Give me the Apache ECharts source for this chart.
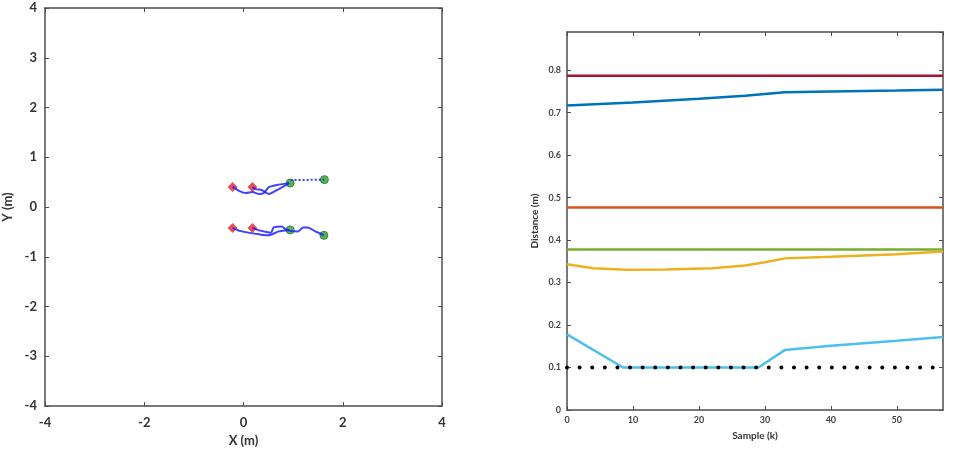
<!DOCTYPE html>
<html>
<head>
<meta charset="utf-8">
<script src="https://cdn.jsdelivr.net/npm/echarts@6/dist/echarts.min.js"></script>
<style>
html,body{margin:0;padding:0;background:#fff;}
#chart{width:954px;height:452px;}
</style>
</head>
<body>
<div id="chart"></div>
<script>
// left panel: robot trajectories (x, y in m)
var pathTop1 = [[-0.22,0.41],[-0.08,0.32],[0.05,0.28],[0.18,0.30],[0.32,0.26],[0.41,0.28],[0.51,0.40],[0.71,0.45],[0.92,0.48]];
var pathTop2 = [[0.18,0.40],[0.25,0.36],[0.37,0.34],[0.51,0.26],[0.71,0.36],[0.92,0.48]];
var pathTopLink = [[0.95,0.54],[1.63,0.55]];
var pathBot1 = [[-0.22,-0.42],[-0.08,-0.48],[0.12,-0.52],[0.32,-0.55],[0.51,-0.57],[0.71,-0.49],[0.92,-0.46]];
var pathBot2 = [[0.18,-0.42],[0.28,-0.46],[0.41,-0.49],[0.55,-0.52],[0.61,-0.41],[0.77,-0.39],[0.84,-0.44],[0.94,-0.48],[1.10,-0.49],[1.20,-0.41],[1.30,-0.41],[1.43,-0.48],[1.62,-0.57]];
var startPts = [[-0.22,0.40],[0.18,0.40],[-0.22,-0.42],[0.18,-0.42]];
var endPts = [[0.94,0.48],[1.63,0.55],[0.94,-0.46],[1.62,-0.57]];

// right panel: distance vs sample
var distRed = [[0,0.787],[57,0.787]];
var distBlue = [[0,0.717],[10,0.724],[20,0.733],[27,0.740],[33,0.748],[40,0.750],[50,0.752],[57,0.754]];
var distOrange = [[0,0.477],[57,0.477]];
var distGreen = [[0,0.378],[57,0.378]];
var distYellow = [[0,0.343],[4,0.334],[9,0.330],[15,0.331],[22,0.334],[27,0.340],[30,0.348],[33,0.357],[40,0.361],[50,0.367],[57,0.373]];
var distCyan = [[0,0.178],[8.5,0.100],[29,0.100],[33,0.141],[40,0.151],[50,0.163],[57,0.172]];
var safeLimit = [[0,0.1],[57.2,0.1]];

var e = echarts.init(document.getElementById("chart"));
var font = "Lato";
var tickStyle = {show: true, inside: true, length: 4, lineStyle: {color: "#4d4d4d", width: 1}};
var lineStyleAx = {show: true, onZero: false, lineStyle: {color: "#4d4d4d", width: 1.5}};
function lbl(size) {
	return {color: "#333", fontFamily: font, fontWeight: "bold", fontSize: size};
}
function trail(data, dotted) {
	return {
		type: "line", xAxisIndex: 0, yAxisIndex: 0, data: data, symbol: "none", smooth: 0.2,
		lineStyle: {color: "#2020ff", width: 2, opacity: 0.85, type: dotted ? [2, 2] : "solid"},
		z: 2
	};
}
function dist(data, color) {
	return {
		type: "line", xAxisIndex: 2, yAxisIndex: 2, data: data, symbol: "none",
		lineStyle: {color: color, width: 2.5}, z: 3
	};
}

var option = {
	animation: false,
	backgroundColor: "#fff",
	grid: [
		{left: 36, top: 8, width: 406, height: 404, show: false},
		{left: 567, top: 32, width: 376, height: 378, show: false}
	],
	xAxis: [
		{gridIndex: 0, type: "value", min: -4, max: 4, interval: 2, position: "bottom",
			name: "X (m)", nameLocation: "middle", nameGap: 28, nameTextStyle: lbl(13),
			axisLine: lineStyleAx, axisTick: tickStyle, splitLine: {show: false},
			axisLabel: Object.assign(lbl(13), {margin: 10})},
		{gridIndex: 0, type: "value", min: -4, max: 4, interval: 2, position: "top",
			axisLine: lineStyleAx, axisTick: tickStyle, splitLine: {show: false}, axisLabel: {show: false}},
		{gridIndex: 1, type: "value", min: 0, max: 57, interval: 10, position: "bottom",
			name: "Sample (k)", nameLocation: "middle", nameGap: 21, nameTextStyle: lbl(10),
			axisLine: lineStyleAx, axisTick: tickStyle, splitLine: {show: false},
			axisLabel: Object.assign(lbl(9), {margin: 6, color: "#444", showMaxLabel: false})},
		{gridIndex: 1, type: "value", min: 0, max: 57, interval: 10, position: "top",
			axisLine: lineStyleAx, axisTick: tickStyle, splitLine: {show: false}, axisLabel: {show: false}}
	],
	yAxis: [
		{gridIndex: 0, type: "value", min: -4, max: 4, interval: 1, position: "left",
			name: "Y (m)", nameLocation: "middle", nameGap: 31, nameRotate: 90, nameTextStyle: lbl(13),
			axisLine: lineStyleAx, axisTick: tickStyle, splitLine: {show: false},
			axisLabel: Object.assign(lbl(13), {margin: 8})},
		{gridIndex: 0, type: "value", min: -4, max: 4, interval: 1, position: "right",
			axisLine: lineStyleAx, axisTick: tickStyle, splitLine: {show: false}, axisLabel: {show: false}},
		{gridIndex: 1, type: "value", min: 0, max: 0.89, interval: 0.1, position: "left",
			name: "Distance (m)", nameLocation: "middle", nameGap: 27, nameRotate: 90, nameTextStyle: lbl(10),
			axisLine: lineStyleAx, axisTick: tickStyle, splitLine: {show: false},
			axisLabel: Object.assign(lbl(9), {margin: 6, color: "#444", showMaxLabel: false,
				formatter: function(v) { return v === 0 ? "0" : v.toFixed(1); }})},
		{gridIndex: 1, type: "value", min: 0, max: 0.89, interval: 0.1, position: "right",
			axisLine: lineStyleAx, axisTick: tickStyle, splitLine: {show: false}, axisLabel: {show: false}}
	],
	series: [
		trail(pathTop1), trail(pathTop2), trail(pathTopLink, true), trail(pathBot1), trail(pathBot2),
		{type: "scatter", xAxisIndex: 0, yAxisIndex: 0, data: startPts, symbol: "diamond", symbolSize: 10,
			itemStyle: {color: "#e8202a", opacity: 0.8}, z: 1},
		{type: "scatter", xAxisIndex: 0, yAxisIndex: 0, data: endPts, symbol: "circle", symbolSize: 8,
			itemStyle: {color: "#3aa83a", opacity: 0.85, borderColor: "#2a7a2a", borderWidth: 1}, z: 1},
		dist(distRed, "#a2142f"),
		dist(distBlue, "#0072bd"),
		dist(distOrange, "#d95319"),
		dist(distGreen, "#77ac30"),
		dist(distYellow, "#edb120"),
		dist(distCyan, "#4dbeee"),
		{type: "line", xAxisIndex: 2, yAxisIndex: 2, data: safeLimit, symbol: "none",
			lineStyle: {color: "#000", width: 4, type: [0.01, 12.6], cap: "round"}, z: 4}
	]
};
e.setOption(option);
</script>
</body>
</html>
